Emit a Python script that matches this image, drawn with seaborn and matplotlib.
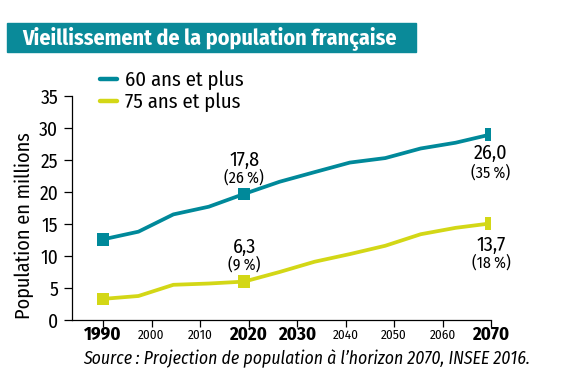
import pandas as pd
import matplotlib
matplotlib.use("Agg")
import matplotlib.pyplot as plt
import seaborn as sns
from matplotlib.patches import Rectangle
from matplotlib.lines import Line2D

# data
years = [1990, 1997.3, 2004.5, 2011.8, 2019.1, 2026.4, 2033.6, 2040.9, 2048.2, 2055.5, 2062.7, 2070]
pop_60 = [12.6, 13.8, 16.5, 17.7, 19.7, 21.6, 23.1, 24.6, 25.3, 26.8, 27.7, 29.0]
pop_75 = [3.3, 3.75, 5.5, 5.7, 6.0, 7.5, 9.1, 10.3, 11.6, 13.4, 14.4, 15.1]
marker_idx = [0, 4, 11]
series = ["60 ans et plus", "75 ans et plus"]
colors = ["#00899a", "#d3d716"]
tick_years = [1990, 2000, 2010, 2020, 2030, 2040, 2050, 2060, 2070]
bold_years = [1990, 2020, 2030, 2070]
notes_60 = [(4, "17,8", "(26\u2009%)"), (11, "26,0", "(35\u2009%)")]
notes_75 = [(4, "6,3", "(9\u2009%)"), (11, "13,7", "(18\u2009%)")]

df = pd.concat([
    pd.DataFrame({"annee": years, "pop": pop_60, "serie": series[0]}),
    pd.DataFrame({"annee": years, "pop": pop_75, "serie": series[1]}),
])
df_mk = df.groupby("serie").nth(marker_idx)

sns.set_style("white")
FONT = ['Fira Sans Condensed', 'DejaVu Sans']
plt.rcParams['font.family'] = FONT
plt.rcParams['text.color'] = 'black'
plt.rcParams['axes.labelcolor'] = 'black'
plt.rcParams['xtick.color'] = 'black'
plt.rcParams['ytick.color'] = 'black'

W, H = 587, 382
fig = plt.figure(figsize=(W / 100, H / 100), dpi=100)
ax = fig.add_axes([72 / W, 1 - 320 / H, 419 / W, 224 / H])
pal = dict(zip(series, colors))
sns.lineplot(data=df, x="annee", y="pop", hue="serie", palette=pal, lw=2.7,
             ax=ax, legend=False)
sns.scatterplot(data=df_mk, x="annee", y="pop", hue="serie", palette=pal, marker="s",
                s=80, linewidth=0, ax=ax, legend=False, zorder=5)

ax.set_xlim(1983.6, 2070)
ax.set_ylim(0, 35)
ax.set_yticks(range(0, 36, 5))
ax.set_xticks(tick_years)
ax.set_xticklabels([str(y) for y in tick_years])
for lab, y in zip(ax.get_xticklabels(), tick_years):
    if y in bold_years:
        lab.set_fontweight("bold")
        lab.set_fontsize(13.5)
    else:
        lab.set_fontsize(9.5)
    lab.set_va("center")
ax.tick_params(axis="y", labelsize=14, length=6, width=0.9, direction="out", left=True, pad=4)
ax.tick_params(axis="x", length=5, width=0.9, direction="out", bottom=True, pad=6)
for s in ["top", "right"]:
    ax.spines[s].set_visible(False)
for s in ["left", "bottom"]:
    ax.spines[s].set_color("black")
    ax.spines[s].set_linewidth(0.9)
ax.set_xlabel("")
ax.set_ylabel("")
ylab = fig.text(24 / W, 1 - 226 / H, "Population en millions", rotation=90,
                fontsize=14, ha="center", va="center")

# value notes (offsets in data units)
for vals, notes in [(pop_60, notes_60), (pop_75, notes_75)]:
    for i, v, p in notes:
        x, y = years[i], vals[i]
        if i == 11:
            d1, d2 = (-2.9, -5.9) if vals is pop_60 else (-3.4, -6.2)
        else:
            d1, d2 = 5.3, 2.6
        ax.text(x, y + d1, v, ha="center", va="center", fontsize=14.5)
        ax.text(x, y + d2, p, ha="center", va="center", fontsize=11.5)

# title banner
fig.patches.append(Rectangle((7 / W, 1 - 52 / H), 409 / W, 29 / H,
                             transform=fig.transFigure, color="#0a8a99", zorder=0))
title = fig.text(22 / W, 1 - 38 / H, "Vieillissement de la population française",
                 color="white", fontsize=15.5, fontweight="bold", va="center", ha="left")

# legend
handles = [Line2D([], [], color=c, lw=3.2, solid_capstyle="round") for c in colors]
leg = fig.legend(handles, series, loc="center left", bbox_to_anchor=(100 / W, 1 - 91 / H),
                 frameon=False, fontsize=14, handlelength=0.85, handletextpad=0.45,
                 labelspacing=0.12, borderaxespad=0, borderpad=0)

src = fig.text(83 / W, 1 - 359 / H, "Source\u2009: Projection de population à l\u2019horizon 2070, INSEE 2016.",
               fontsize=12.5, style="italic", va="center", ha="left")


def fit_width(t, target):
    # scale font so the text spans `target` pixels
    r = fig.canvas.get_renderer()
    w = t.get_window_extent(r).width
    t.set_fontsize(t.get_fontsize() * target / w)


def fit_height(t, target):
    r = fig.canvas.get_renderer()
    h = t.get_window_extent(r).height
    t.set_fontsize(t.get_fontsize() * target / h)


fig.canvas.draw()
fit_width(title, 375)
fit_width(src, 447)
fit_height(ylab, 187)
r = fig.canvas.get_renderer()
lw_ = leg.get_texts()[0].get_window_extent(r).width
for t in leg.get_texts():
    t.set_fontsize(t.get_fontsize() * 120 / lw_)

fig.savefig("out.png", dpi=100)
